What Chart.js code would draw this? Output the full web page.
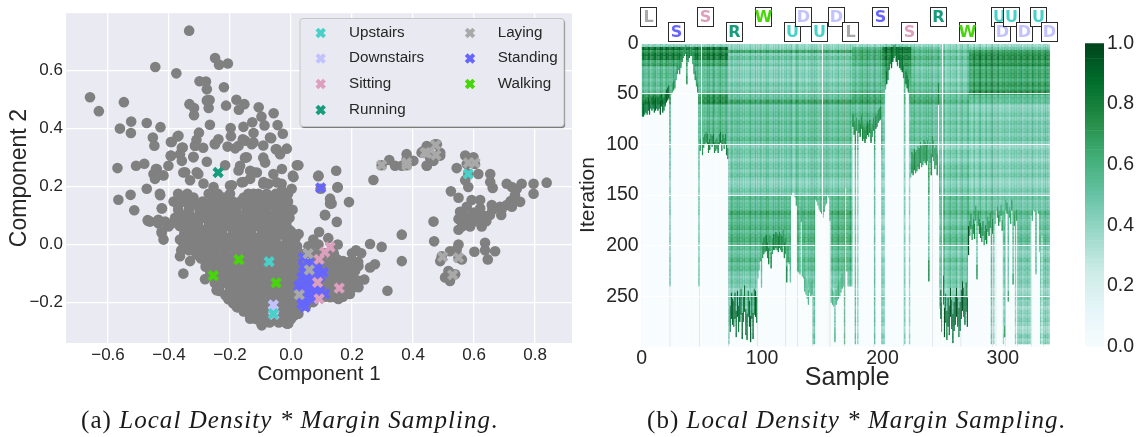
<!DOCTYPE html>
<html><head><meta charset="utf-8">
<script src="https://cdn.jsdelivr.net/npm/chart.js@4/dist/chart.umd.min.js"></script>
<style>
html,body{margin:0;padding:0;background:#fff;width:1141px;height:437px;overflow:hidden}
canvas{position:absolute;top:0}
.cap{position:absolute;top:405px;font-family:"Liberation Serif",serif;font-size:25px;line-height:30px;color:#1a1a1a;white-space:nowrap;letter-spacing:1.05px}
.cap i{font-style:italic}
</style></head><body>
<canvas id="scatter" width="576" height="437" style="left:0"></canvas>
<canvas id="heat" width="484" height="437" style="left:576px"></canvas>
<canvas id="bar" width="81" height="437" style="left:1060px"></canvas>
<div class="cap" style="left:81px">(a) <i>Local Density * Margin Sampling</i>.</div>
<div class="cap" style="left:647px">(b) <i>Local Density * Margin Sampling</i>.</div>
<script>
// ---------- left panel: PCA scatter ----------
const grayPoints=[
[-0.334,0.736],[-0.445,0.611],[-0.376,0.589],[-0.249,0.642],[-0.236,0.619],[-0.207,0.623],[-0.659,0.507],[-0.63,0.459],[-0.548,0.49],
[-0.3,0.562],[-0.279,0.561],[-0.276,0.534],[-0.22,0.541],[-0.333,0.483],[-0.318,0.47],[-0.318,0.445],[-0.276,0.496],[-0.267,0.497],[-0.27,0.47],
[-0.213,0.478],[-0.179,0.498],[-0.153,0.483],[-0.171,0.464],[-0.106,0.472],[-0.097,0.44],[-0.057,0.452],[-0.524,0.423],[-0.561,0.399],[-0.525,0.384],
[-0.473,0.418],[-0.428,0.404],[-0.453,0.368],[-0.448,0.34],[-0.394,0.353],[-0.372,0.372],[-0.266,0.412],[-0.302,0.385],[-0.31,0.36],[-0.315,0.34],
[-0.288,0.333],[-0.238,0.362],[-0.25,0.347],[-0.198,0.401],[-0.197,0.373],[-0.208,0.337],[-0.183,0.331],[-0.158,0.362],[-0.129,0.345],[-0.156,0.405],
[-0.127,0.421],[-0.123,0.384],[-0.087,0.41],[-0.044,0.411],[-0.027,0.381],[-0.065,0.366],[-0.091,0.341],[-0.05,0.328],[-0.014,0.33],[-0.036,0.311],
[-0.216,0.273],[-0.276,0.285],[-0.394,0.305],[-0.358,0.333],[-0.358,0.288],[-0.32,0.302],[-0.569,0.263],[-0.508,0.271],[-0.481,0.278],[-0.443,0.26],
[-0.402,0.271],[-0.451,0.243],[-0.353,0.248],[-0.304,0.243],[-0.473,0.192],[-0.43,0.175],[-0.566,0.154],[-0.526,0.171],[-0.514,0.118],[-0.423,0.124],
[-0.47,0.084],[0.019,0.273],[-0.151,0.299],[-0.167,0.271],[-0.091,0.299],[-0.085,0.282],[-0.134,0.254],[-0.112,0.248],[-0.058,0.243],[-0.03,0.26],
[0.006,0.237],[-0.162,0.214],[-0.2,0.203],[-0.091,0.209],[0.002,0.192],[-0.047,0.214],[-0.03,0.186],[-0.123,0.175],[-0.08,0.146],[-0.02,0.137],
[-0.162,0.152],[-0.03,0.101],[-0.069,0.096],[-0.112,0.124],
[-0.391,0.353],[-0.369,0.374],[-0.355,0.334],[-0.394,0.306],[-0.364,0.311],[-0.32,0.3],[-0.347,0.249],[-0.309,0.249],[-0.249,0.345],[-0.314,0.34],
[-0.172,0.34],[-0.15,0.357],[-0.123,0.351],[-0.069,0.368],[-0.047,0.328],[-0.145,0.3],[-0.172,0.255],[-0.123,0.249],[-0.09,0.215],[-0.074,0.209],
[-0.44,0.26],[-0.418,0.238],[-0.446,0.226],[-0.429,0.17],[-0.424,0.125],[-0.462,0.079],[-0.435,0.085],[-0.413,0.079],[-0.424,0.045],[-0.331,0.221],
[-0.287,0.21],[-0.254,0.198],[-0.194,0.204],[-0.156,0.215],[-0.134,0.226],[-0.107,0.175],[-0.074,0.153],[-0.123,0.159],
[-0.468,0.081],[-0.435,0.073],[-0.424,0.04],[-0.418,0.017],[-0.402,0.062],[-0.364,0.017],[-0.391,0.073],[-0.364,-0.04],[-0.331,-0.057],
[-0.282,-0.119],[-0.244,-0.157],[-0.205,-0.187],[-0.178,-0.215],[-0.134,-0.255],[-0.096,-0.278],[-0.014,-0.272],[-0.353,-0.1],
[0.024,0.273],[0.09,0.237],[0.148,0.254],[0.097,0.192],[0.152,0.196],[0.19,0.146],[0.27,0.222],[0.128,0.158],[0.128,0.141],[0.112,0.101],[0.15,0.078],
[0.297,0.273],[0.322,0.291],[0.341,0.271],[0.379,0.294],[0.363,0.271],[0.401,0.288],[0.379,0.311],[0.379,0.273],[0.445,0.271],[0.434,0.322],[0.445,0.339],[0.478,0.345],
[0.489,0.316],[0.467,0.288],[0.456,0.299],[0.445,0.334],[0.472,0.345],[0.489,0.306],[0.445,0.272],[0.428,0.317],[0.543,0.263],[0.571,0.306],[0.598,0.3],
[0.576,0.277],[0.603,0.277],[0.581,0.243],[0.614,0.243],[0.581,0.198],[0.571,0.221],[0.653,0.243],[0.653,0.215],[0.661,0.195],[0.707,0.209],[0.724,0.198],
[0.756,0.209],[0.795,0.209],[0.838,0.213],[0.795,0.175],[0.74,0.192],[0.734,0.17],[0.751,0.147],[0.707,0.136],[0.724,0.13],[0.685,0.13],[0.658,0.136],
[0.689,0.102],[0.652,0.102],[0.524,0.183],[0.549,0.161],[0.592,0.153],[0.62,0.153],[0.62,0.125],[0.554,0.113],[0.576,0.13],[0.598,0.102],[0.549,0.088],
[0.581,0.085],[0.614,0.079],[0.625,0.062],[0.587,0.062],[0.549,0.051],[0.56,0.062],[0.467,0.079],[0.469,0.011],[0.549,0.0],[0.636,0.006],[0.669,-0.023],
[0.636,-0.02],[0.645,-0.051],[0.601,-0.025],[0.494,-0.04],[0.521,-0.023],[0.489,-0.057],[0.549,-0.045],[0.56,-0.051],[0.543,-0.017],[0.516,-0.091],
[0.527,-0.102],[0.538,-0.102],[0.521,-0.125],[0.505,-0.113],
[0.57,0.1],[0.6,0.08],[0.63,0.1],[0.66,0.12],[0.69,0.12],[0.72,0.15],[0.58,0.07],[0.6,0.11],[0.56,0.08],[0.64,0.08],
[0.089,0.235],[0.153,0.198],[0.133,0.141],[0.111,0.102],[0.092,0.043],[0.122,0.022],[0.153,0.0],[0.213,-0.02],[0.259,0.002],[0.297,-0.008],[0.363,0.034],
[0.363,-0.057],[0.316,-0.159],[0.275,-0.068],[0.259,-0.079],[0.073,0.017],[0.057,-0.006],[0.204,-0.057],[0.221,-0.074],[0.171,-0.057],[0.139,-0.068],
[0.182,-0.079],[0.221,-0.125],[0.221,-0.147],[0.193,-0.102],[0.193,-0.17],[0.155,-0.187],[0.128,-0.181],[0.161,-0.113],[0.139,-0.136],[0.166,-0.159],
[0.117,-0.113],[0.117,-0.079],[0.084,-0.045],[0.04,-0.034],[0.008,-0.079],[0.013,-0.147],[0.024,-0.238],[-0.009,-0.272],[-0.042,-0.261],[-0.014,-0.221],
[0.002,-0.198],[-0.014,-0.17],[-0.014,-0.136],[-0.003,0.022],[0,0.045],[-0.02,0.136],[0.008,0.232],[-0.031,0.209],[-0.042,0.096],[-0.02,0.062],[0.013,-0.023],
[-0.009,-0.023],[0.002,-0.091],[0.051,-0.181],[0.073,-0.198],
[0.04,-0.06],[0.07,-0.06],[0.1,-0.06],[0.13,-0.06],[0.16,-0.06],[0.19,-0.06],[0.22,-0.06],[0.03,-0.09],[0.06,-0.09],[0.09,-0.09],[0.12,-0.09],[0.15,-0.09],[0.18,-0.09],[0.21,-0.09],
[0.03,-0.12],[0.06,-0.12],[0.09,-0.12],[0.12,-0.12],[0.15,-0.12],[0.18,-0.12],[0.21,-0.12],[0.24,-0.12],[0.02,-0.15],[0.05,-0.15],[0.08,-0.15],[0.11,-0.15],[0.14,-0.15],[0.17,-0.15],[0.2,-0.15],
[0.02,-0.18],[0.05,-0.18],[0.08,-0.18],[0.11,-0.18],[0.14,-0.18],[0.17,-0.18],[0.05,-0.03],[0.08,-0.03],[0.11,-0.03],[0.14,-0.03],[0.2,-0.03],[0.23,-0.03],[0.02,-0.21],[0.05,-0.21],
[0.14,-0.1],[0.1,-0.13],[0.13,-0.165],[0.17,-0.135],[0.19,-0.14],[0.15,-0.05],[0.1,-0.05],[0.06,-0.01],[0.09,0],[0.13,-0.03],[0.16,-0.08],[0.11,-0.09],[0.2,-0.09],[0.15,-0.12],[0.09,-0.17],[0.12,-0.15],[0.05,-0.09],
[-0.37,0.175],[-0.34,0.175],[-0.27,0.175],[-0.24,0.175],[-0.2,0.175],[-0.14,0.175],[-0.08,0.175],[-0.05,0.175],[-0.01,0.175],
[-0.355,0.162],[-0.32,0.162],[-0.255,0.162],[-0.22,0.162],[-0.155,0.162],[-0.065,0.162],[-0.03,0.162],
[-0.385,0.148],[-0.35,0.148],[-0.32,0.148],[-0.29,0.148],[-0.26,0.148],[-0.225,0.148],[-0.19,0.148],[-0.16,0.148],[-0.13,0.148],[-0.1,0.148],[-0.07,0.148],[-0.04,0.148],[-0.01,0.148],
[-0.37,0.134],[-0.335,0.134],[-0.305,0.134],[-0.275,0.134],[-0.24,0.134],[-0.205,0.134],[-0.175,0.134],[-0.145,0.134],[-0.115,0.134],[-0.085,0.134],[-0.055,0.134],[-0.025,0.134],
[-0.37,0.12],[-0.335,0.12],[-0.3,0.12],[-0.27,0.12],[-0.24,0.12],[-0.21,0.12],[-0.18,0.12],[-0.145,0.12],[-0.11,0.12],[-0.08,0.12],[-0.045,0.12],[-0.02,0.12],[0.005,0.12],
[-0.365,0.106],[-0.335,0.106],[-0.3,0.106],[-0.27,0.106],[-0.24,0.106],[-0.205,0.106],[-0.175,0.106],[-0.14,0.106],[-0.11,0.106],[-0.08,0.106],[-0.05,0.106],[-0.015,0.106],
[-0.38,0.092],[-0.35,0.092],[-0.32,0.092],[-0.285,0.092],[-0.255,0.092],[-0.225,0.092],[-0.19,0.092],[-0.16,0.092],[-0.125,0.092],[-0.095,0.092],[-0.065,0.092],[-0.03,0.092],[-0.005,0.092],
[-0.37,0.078],[-0.34,0.078],[-0.305,0.078],[-0.27,0.078],[-0.24,0.078],[-0.205,0.078],[-0.175,0.078],[-0.14,0.078],[-0.11,0.078],[-0.08,0.078],[-0.05,0.078],[-0.015,0.078],
[-0.365,0.064],[-0.335,0.064],[-0.305,0.064],[-0.27,0.064],[-0.24,0.064],[-0.21,0.064],[-0.175,0.064],[-0.145,0.064],[-0.11,0.064],[-0.08,0.064],[-0.045,0.064],[-0.015,0.064],
[-0.35,0.05],[-0.32,0.05],[-0.285,0.05],[-0.255,0.05],[-0.225,0.05],[-0.19,0.05],[-0.16,0.05],[-0.13,0.05],[-0.095,0.05],[-0.065,0.05],[-0.035,0.05],[-0.005,0.05],
[-0.35,0.036],[-0.32,0.036],[-0.29,0.036],[-0.255,0.036],[-0.225,0.036],[-0.19,0.036],[-0.16,0.036],[-0.13,0.036],[-0.095,0.036],[-0.065,0.036],[-0.03,0.036],[0,0.036],[0.025,0.036],
[-0.335,0.022],[-0.305,0.022],[-0.275,0.022],[-0.24,0.022],[-0.21,0.022],[-0.175,0.022],[-0.145,0.022],[-0.115,0.022],[-0.08,0.022],[-0.05,0.022],[-0.015,0.022],[0.015,0.022],
[-0.355,0.008],[-0.325,0.008],[-0.295,0.008],[-0.265,0.008],[-0.235,0.008],[-0.205,0.008],[-0.17,0.008],[-0.14,0.008],[-0.11,0.008],[-0.08,0.008],[-0.05,0.008],[-0.015,0.008],[0.01,0.008],
[-0.345,-0.006],[-0.31,-0.006],[-0.28,-0.006],[-0.25,-0.006],[-0.22,-0.006],[-0.19,-0.006],[-0.155,-0.006],[-0.125,-0.006],[-0.095,-0.006],[-0.065,-0.006],[-0.035,-0.006],[-0.005,-0.006],[0.02,-0.006],
[-0.36,-0.02],[-0.335,-0.02],[-0.305,-0.02],[-0.275,-0.02],[-0.245,-0.02],[-0.215,-0.02],[-0.18,-0.02],[-0.15,-0.02],[-0.12,-0.02],[-0.09,-0.02],[-0.06,-0.02],[-0.03,-0.02],[0,-0.02],[0.02,-0.02],
[-0.31,-0.034],[-0.28,-0.034],[-0.25,-0.034],[-0.215,-0.034],[-0.185,-0.034],[-0.155,-0.034],[-0.125,-0.034],[-0.095,-0.034],[-0.065,-0.034],[-0.035,-0.034],[-0.005,-0.034],[0.015,-0.034],
[-0.295,-0.048],[-0.265,-0.048],[-0.23,-0.048],[-0.2,-0.048],[-0.17,-0.048],[-0.14,-0.048],[-0.11,-0.048],[-0.08,-0.048],[-0.05,-0.048],[-0.02,-0.048],[0.01,-0.048],
[-0.28,-0.062],[-0.245,-0.062],[-0.215,-0.062],[-0.185,-0.062],[-0.155,-0.062],[-0.125,-0.062],[-0.095,-0.062],[-0.065,-0.062],[-0.035,-0.062],[-0.005,-0.062],[0.015,-0.062],
[-0.28,-0.076],[-0.25,-0.076],[-0.22,-0.076],[-0.185,-0.076],[-0.155,-0.076],[-0.125,-0.076],[-0.09,-0.076],[-0.06,-0.076],[-0.03,-0.076],[0,-0.076],[0.02,-0.076],
[-0.265,-0.09],[-0.235,-0.09],[-0.205,-0.09],[-0.17,-0.09],[-0.14,-0.09],[-0.11,-0.09],[-0.075,-0.09],[-0.045,-0.09],[-0.015,-0.09],[0.01,-0.09],
[-0.265,-0.104],[-0.235,-0.104],[-0.2,-0.104],[-0.17,-0.104],[-0.14,-0.104],[-0.105,-0.104],[-0.075,-0.104],[-0.045,-0.104],[-0.015,-0.104],[0.015,-0.104],
[-0.25,-0.118],[-0.22,-0.118],[-0.185,-0.118],[-0.155,-0.118],[-0.125,-0.118],[-0.09,-0.118],[-0.06,-0.118],[-0.03,-0.118],[0,-0.118],
[-0.25,-0.132],[-0.215,-0.132],[-0.185,-0.132],[-0.155,-0.132],[-0.12,-0.132],[-0.09,-0.132],[-0.06,-0.132],[-0.03,-0.132],[0,-0.132],[0.02,-0.132],
[-0.235,-0.146],[-0.2,-0.146],[-0.17,-0.146],[-0.14,-0.146],[-0.105,-0.146],[-0.075,-0.146],[-0.045,-0.146],[-0.015,-0.146],[0.015,-0.146],
[-0.235,-0.16],[-0.2,-0.16],[-0.17,-0.16],[-0.135,-0.16],[-0.105,-0.16],[-0.075,-0.16],[-0.045,-0.16],[-0.015,-0.16],[0.01,-0.16],
[-0.215,-0.174],[-0.185,-0.174],[-0.155,-0.174],[-0.12,-0.174],[-0.09,-0.174],[-0.06,-0.174],[-0.03,-0.174],[0,-0.174],[0.02,-0.174],
[-0.205,-0.188],[-0.175,-0.188],[-0.145,-0.188],[-0.115,-0.188],[-0.085,-0.188],[-0.055,-0.188],[-0.025,-0.188],[0.005,-0.188],[0.03,-0.188],
[-0.19,-0.202],[-0.16,-0.202],[-0.13,-0.202],[-0.1,-0.202],[-0.07,-0.202],[-0.04,-0.202],[-0.01,-0.202],[0.02,-0.202],
[-0.175,-0.216],[-0.145,-0.216],[-0.115,-0.216],[-0.085,-0.216],[-0.055,-0.216],[-0.025,-0.216],[0,-0.216],[0.025,-0.216],
[-0.155,-0.23],[-0.125,-0.23],[-0.095,-0.23],[-0.065,-0.23],[-0.035,-0.23],[-0.005,-0.23],[0.02,-0.23],
[-0.135,-0.244],[-0.105,-0.244],[-0.08,-0.244],[-0.05,-0.244],[-0.02,-0.244],[0.01,-0.244],
[-0.115,-0.256],[-0.085,-0.256],[-0.055,-0.256],[-0.025,-0.256],[0,-0.256],
[-0.098,-0.268],[-0.07,-0.268],[-0.04,-0.268],[-0.012,-0.268]
];
const upstairsPoints=[[-0.072,-0.059],[-0.058,-0.238],[0.581,0.243]];
const downstairsPoints=[[-0.058,-0.208],[-0.058,-0.227],[-0.056,-0.24]];
const sittingPoints=[[0.128,-0.009],[0.111,-0.026],[0.092,-0.051],[0.087,-0.13],[0.158,-0.15],[0.092,-0.187]];
const runningPoints=[[-0.239,0.248]];
const layingPoints=[[0.056,-0.031],[0.06,-0.087],[0.027,-0.172],[0.445,0.315],[0.475,0.308],[0.474,0.342],[0.581,0.281],[0.603,0.281],[0.497,-0.042],[0.549,-0.045],[0.53,-0.104],[0.297,0.273],[0.379,0.273],[0.379,0.282],[0.439,0.316]];
const standingPoints=[[0.097,0.195],[0.04,-0.045],[0.057,-0.062],[0.073,-0.068],[0.089,-0.079],[0.106,-0.096],[0.046,-0.091],[0.068,-0.091],[0.089,-0.096],[0.035,-0.113],[0.057,-0.113],[0.079,-0.119],[0.024,-0.142],[0.04,-0.142],[0.062,-0.142],[0.084,-0.142],[0.111,-0.17],[0.035,-0.17],[0.057,-0.17],[0.079,-0.17],[0.035,-0.204],[0.051,-0.187],[0.046,-0.215],[0.068,-0.187],[0.05,-0.105],[0.07,-0.13],[0.05,-0.155],[0.07,-0.155],[0.095,-0.11],[0.04,-0.075],[0.04,-0.19],[0.095,-0.16]];
const walkingPoints=[[-0.171,-0.052],[-0.255,-0.107],[-0.049,-0.132]];
const classNames=["Upstairs","Downstairs","Sitting","Running","Laying","Standing","Walking"];
const classColors=["#48d1c8","#c2c2ff","#dc9fbd","#179c7d","#a9a9a9","#6666ff","#47d60a"];
const classPoints=[upstairsPoints,downstairsPoints,sittingPoints,runningPoints,layingPoints,standingPoints,walkingPoints];
const xTicks=[-0.6,-0.4,-0.2,0,0.2,0.4,0.6,0.8];
const yTicks=[-0.2,0,0.2,0.4,0.6];

// ---------- right panel: heat map ----------
const columnStops=[
72,72,70,68,70,66,70,64,66,64,68,66,64,66,64,70,62,68,66,62,58,56,54,240,
50,48,46,44,36,30,26,30,24,18,14,12,10,40,18,14,12,12,20,30,36,42,48,240,
106,104,110,103,100,98,100,108,105,100,102,100,108,106,104,108,100,98,106,100,104,100,110,114,
297,285,272,278,280,272,290,270,285,275,268,292,275,265,288,293,270,280,295,272,292,268,270,276,
232,224,215,241,
212,208,206,205,212,218,205,222,208,204,204,202,204,206,202,204,206,200,212,208,236,216,218,236,
150,147,148,152,160,225,226,228,176,230,232,245,248,252,258,246,250,248,297,297,
154,156,160,164,166,168,172,166,160,158,150,152,175,
256,258,260,295,258,254,252,250,246,242,240,297,
142,225,240,240,240,240,
82,90,297,86,297,88,92,84,96,94,98,94,90,92,88,98,92,86,297,84,82,78,76,75,
297,297,297,45,40,36,26,20,24,18,14,12,18,22,16,24,26,28,34,297,40,44,48,297,
132,128,130,125,128,126,122,124,118,122,120,116,118,120,116,235,118,130,112,116,124,120,130,60,
262,272,285,258,290,276,293,280,288,270,282,296,284,278,270,280,290,284,272,264,270,278,265,280,
209,190,183,194,188,193,175,233,180,188,192,196,190,200,194,198,186,190,182,297,188,
297,178,165,172,180,176,170,185,297,290,165,168,255,172,178,165,238,180,297,175,297,
297,297,297,297,297,297,297,297,297,
297,170,175,165,166,228,165,168,206,297,190,297,297,297,297,297,297
];
const bandEdges=[0,3,6,9,12,16,22,30,38,46,50,55,60,68,80,92,105,120,135,150,165,180,200,225,255,300];
const regionStarts=[0,72,175,200,224,248,272];
const regionLevels=[
[.38,.92,.72,.9,.78,.66,.6,.58,.56,.58,.7,.74,.62,.58,.56,.54,.5,.45,.45,.45,.45,.45,.45,.45,.45],
[.36,.46,.66,.49,.5,.46,.48,.46,.48,.5,.48,.64,.56,.54,.5,.52,.48,.46,.48,.54,.62,.6,.56,.46,.46],
[.35,.62,.66,.68,.62,.58,.56,.55,.56,.6,.6,.66,.58,.6,.64,.66,.5,.45,.45,.45,.45,.45,.45,.45,.45],
[.4,.9,.85,.82,.8,.72,.7,.66,.6,.6,.6,.6,.55,.5,.5,.5,.45,.45,.45,.45,.45,.45,.45,.45,.45],
[.36,.55,.6,.58,.58,.54,.52,.52,.54,.56,.56,.62,.56,.54,.5,.5,.52,.6,.6,.5,.45,.45,.45,.45,.45],
[.36,.46,.54,.5,.5,.48,.48,.46,.48,.5,.48,.54,.52,.5,.46,.46,.46,.48,.48,.52,.54,.54,.5,.46,.46],
[.34,.52,.68,.8,.74,.72,.7,.68,.7,.78,.52,.5,.48,.48,.46,.46,.44,.44,.46,.48,.56,.54,.48,.44,.42]
];
const columnShade="3515264037462518360472635184270536142738150462731840526371495026385714620375184629370516248361705284163947250618374092517364820395716428305169273840615927483160573924816075392846105738264917503682417360592418730625948136720584916375028461937502648157390264815739206481537926048153792604815379260481";
const rowShade="7261849035172684930261758493027516849302718465930271684503926174850392716485029371648502937164";
const tailSpans=[[0,23,12,.9],[25,47,8,.7],[48,72,10,.8],[73,96,25,.92],[100,122,15,.78],[130,143,14,.56],[157,168,14,.56],[175,199,12,.75],[203,223,12,.82],[224,247,20,.72],[248,272,28,.92],[272,292,14,.76],[295,312,10,.7]];
const gapColumns=[[7,6,61],[12,4,62],[50,0,107],[60,70,106],[66,15,107],[100,0,140],[117,0,145],[132,0,148],[148,0,110],[228,0,130],[255,0,150],[278,52,160],[280,145,180],[296,55,170],[305,45,165]];
const markerSamples=[0,23.5,47.9,71.9,96,119.8,129.2,142,156.4,168.3,193,217.3,241.4,265.2,291.5,294.3,302,312.3,323.9,333.6];
const markerLetters=["L","S","S","R","W","U","D","U","D","L","S","S","R","W","U","D","U","D","U","D"];
const markerClasses=[4,5,2,3,6,0,1,0,1,4,5,2,3,6,0,1,0,1,0,1];
const markerRows=[0,1,0,1,0,1,0,1,0,1,0,1,0,1,0,1,0,1,0,1];
const redSampleIndex=9;
const sampleTicks=[0,100,200,300];
const iterationTicks=[0,50,100,150,200,250];
const colorbarTicks=[0,0.2,0.4,0.6,0.8,1];

const buGn=["#f7fcfd","#e5f5f9","#ccece6","#99d8c9","#66c2a4","#41ae76","#238b45","#006d2c","#00441b"];
function cmap(v){
  v=Math.max(0,Math.min(1,v));
  const p=v*(buGn.length-1),i=Math.min(buGn.length-2,Math.floor(p)),f=p-i;
  const h=c=>[1,3,5].map(k=>parseInt(c.substr(k,2),16));
  const a=h(buGn[i]),b=h(buGn[i+1]);
  return `rgb(${a.map((q,k)=>Math.round(q+(b[k]-q)*f)).join(",")})`;
}
const tickColor="#262626",sans='"Liberation Sans",Arial,sans-serif';
Chart.defaults.font.family=sans;
Chart.defaults.animation=false;

// scatter
const plotBg={id:"plotBg",beforeDraw(c){const a=c.chartArea,x=c.ctx;x.save();x.fillStyle="#eaeaf2";x.fillRect(a.left,a.top,a.right-a.left,a.bottom-a.top);x.restore();}};
const boxLegend={id:"boxLegend",afterDraw(c){
  const x=c.ctx;x.save();
  x.shadowColor="rgba(70,70,70,.75)";x.shadowOffsetX=1;x.shadowOffsetY=1.5;x.shadowBlur=1;
  x.fillStyle="#e9e9f1";x.beginPath();x.roundRect(300,18.5,264,108,3);x.fill();
  x.shadowColor="transparent";x.strokeStyle="#c6c6c6";x.lineWidth=1;x.stroke();
  const rowsY=[33,58.5,84,110];
  classNames.forEach((n,i)=>{
    const col=i<4?0:1,ry=rowsY[col?i-4:i],mx=col?470:320.7,tx=col?497.7:349;
    x.strokeStyle=classColors[i];x.lineWidth=4;
    x.beginPath();x.moveTo(mx-3.8,ry-3.8);x.lineTo(mx+3.8,ry+3.8);x.moveTo(mx+3.8,ry-3.8);x.lineTo(mx-3.8,ry+3.8);x.stroke();
    x.fillStyle=tickColor;x.font=`15.2px ${sans}`;x.textBaseline="middle";x.textAlign="left";x.fillText(n,tx,ry-.5);
  });
  x.restore();
}};
const toXY=p=>({x:p[0],y:p[1]});
new Chart(document.getElementById("scatter"),{
  type:"scatter",plugins:[plotBg,boxLegend],
  data:{datasets:[
    ...classNames.map((n,i)=>({label:n,data:classPoints[i].map(toXY),pointStyle:"crossRot",pointRadius:6,pointBorderWidth:4,pointBorderColor:classColors[i],pointBackgroundColor:classColors[i]})),
    {label:"Unlabeled",data:grayPoints.map(toXY),pointRadius:5.3,pointBorderWidth:0,pointBackgroundColor:"#808080"}
  ]},
  options:{responsive:false,events:[],layout:{autoPadding:false,padding:{left:0,right:4,top:9,bottom:0}},
    plugins:{legend:{display:false},tooltip:{enabled:false}},
    scales:{
      x:{type:"linear",min:-0.7377,max:0.921,afterFit:s=>{s.height=94;},afterBuildTicks:s=>{s.ticks=xTicks.map(v=>({value:v}));},
        grid:{color:"#fff",lineWidth:1.3,drawTicks:false},border:{display:false},
        ticks:{color:tickColor,font:{size:17},padding:2,maxRotation:0,callback:v=>v.toFixed(1).replace("-","\u2212")},
        title:{display:true,text:"Component 1",color:tickColor,font:{size:20.5},padding:{top:0,bottom:50}}},
      y:{type:"linear",min:-0.3387,max:0.796,afterFit:s=>{s.width=66;},afterBuildTicks:s=>{s.ticks=yTicks.map(v=>({value:v}));},
        grid:{color:"#fff",lineWidth:1.3,drawTicks:false},border:{display:false},
        ticks:{color:tickColor,font:{size:17},padding:3,callback:v=>v.toFixed(1).replace("-","\u2212")},
        title:{display:true,text:"Component 2",color:tickColor,font:{size:23},padding:{top:6,bottom:0}}}
    }}
});

// heat map
const regionOf=s=>{let r=0;regionStarts.forEach((v,i)=>{if(s>=v)r=i;});return r;};
const shadeOf=s=>((+columnShade[s%columnShade.length])-4.5)*0.016;
const bandSets=[];
let rowIndex=0;
for(let b=0;b<bandEdges.length-1;b++){
  for(let top=bandEdges[b];top<bandEdges[b+1];top+=4){
    const bottom=Math.min(top+4,bandEdges[b+1]);
    const rs=((+rowShade[rowIndex%rowShade.length])-4.5)*0.014;rowIndex++;
    const data=[],colors=[];
    columnStops.forEach((stop,s)=>{
      if(stop<=top)return;
      data.push({x:s+.5,y:[top,Math.min(bottom,stop)]});
      colors.push(cmap(regionLevels[regionOf(s)][b]+shadeOf(s)+rs));
    });
    bandSets.push({data,backgroundColor:colors,order:5,inflateAmount:.6});
  }
}
const tailData=[],tailColors=[];
tailSpans.forEach(t=>{for(let s=t[0];s<t[1]&&s<columnStops.length;s++){
  const stop=columnStops[s];
  if(stop>=297&&t[0]!==73&&t[0]!==248)continue;
  if(s===23||s===47)continue;
  tailData.push({x:s+.5,y:[Math.max(0,stop-t[2]),stop]});tailColors.push(cmap(t[3]+shadeOf(s)));
}});
const gapData=gapColumns.map(g=>({x:g[0]+.5,y:[g[1],g[2]]}));
const lineData=markerSamples.map((v,i)=>i===redSampleIndex?null:{x:v,y:[0,300]}).filter(Boolean);
const redData=[{x:markerSamples[redSampleIndex],y:[0,300]}];
const bgData=columnStops.map((_,s)=>({x:s+.5,y:[0,300]}));
const heatBoxes={id:"heatBoxes",afterDraw(c){
  const x=c.ctx,sx=c.scales.x;x.save();
  markerSamples.forEach((v,i)=>{
    const cx=Math.round(sx.getPixelForValue(v)+6),cy=markerRows[i]?32:17;
    x.fillStyle="#fff";x.strokeStyle="#2a2a2a";x.lineWidth=1;
    x.fillRect(cx-8,cy-9.5,16,19);x.strokeRect(cx-7.5,cy-9.5,16,19);
    x.fillStyle=classColors[markerClasses[i]];x.font=`bold 16px "DejaVu Sans",sans-serif`;x.textAlign="center";x.textBaseline="middle";
    x.fillText(markerLetters[i],cx+.5,cy+.5);
  });
  x.restore();
}};
const barBase={grouped:false,barPercentage:1,categoryPercentage:1,borderWidth:0};
new Chart(document.getElementById("heat"),{
  type:"bar",plugins:[heatBoxes],
  data:{datasets:[
    {data:redData,backgroundColor:"#f2705f",barPercentage:1.2,inflateAmount:0,order:0},
    {data:lineData,backgroundColor:"#7f899c",barPercentage:1.5,inflateAmount:0,order:1},
    {data:gapData,backgroundColor:"#eefaf7",inflateAmount:0,order:2},
    {data:tailData,backgroundColor:tailColors,inflateAmount:.4,order:3},
    ...bandSets,
    {data:bgData,backgroundColor:cmap(0),inflateAmount:.6,order:9}
  ]},
  options:{responsive:false,events:[],layout:{autoPadding:false,padding:{left:0,right:7.3,top:43.3,bottom:0}},
    datasets:{bar:barBase},
    plugins:{legend:{display:false},tooltip:{enabled:false}},
    scales:{
      x:{type:"linear",offset:false,min:0,max:341.4,afterFit:s=>{s.height=90.3;},afterBuildTicks:s=>{s.ticks=sampleTicks.map(v=>({value:v}));},
        grid:{color:"rgba(255,255,255,.9)",lineWidth:1,drawTicks:false,z:1},border:{display:false},
        ticks:{color:tickColor,font:{size:19.5},padding:0,maxRotation:0},
        title:{display:true,text:"Sample",color:tickColor,font:{size:25},padding:{top:0,bottom:44}}},
      y:{type:"linear",reverse:true,min:0,max:300,afterFit:s=>{s.width=65.7;},afterBuildTicks:s=>{s.ticks=iterationTicks.map(v=>({value:v}));},
        grid:{color:"rgba(255,255,255,.9)",lineWidth:1,drawTicks:false,z:1},border:{display:false},
        ticks:{color:tickColor,font:{size:19.5},padding:3},
        title:{display:true,text:"Iteration",color:tickColor,font:{size:21},padding:{top:0,bottom:0}}}
    }}
});

// colour bar
const colorbarLevels=[];
for(let i=0;i<80;i++)colorbarLevels.push(i/80);
new Chart(document.getElementById("bar"),{
  type:"bar",
  data:{labels:[""],datasets:colorbarLevels.map(v=>({data:[[v,v+1/80]],backgroundColor:cmap(v+1/160)}))},
  options:{responsive:false,events:[],layout:{autoPadding:false,padding:{left:25,right:0,top:43.3,bottom:90.3}},
    datasets:{bar:barBase},
    plugins:{legend:{display:false},tooltip:{enabled:false}},
    scales:{
      x:{display:false},
      y:{position:"right",min:0,max:1,afterFit:s=>{s.width=37;},afterBuildTicks:s=>{s.ticks=colorbarTicks.map(v=>({value:v}));},
        grid:{display:false,drawTicks:false},border:{display:false},
        ticks:{color:tickColor,font:{size:19.5},padding:3,callback:v=>v.toFixed(1)}}
    }}
});
</script>
</body></html>
